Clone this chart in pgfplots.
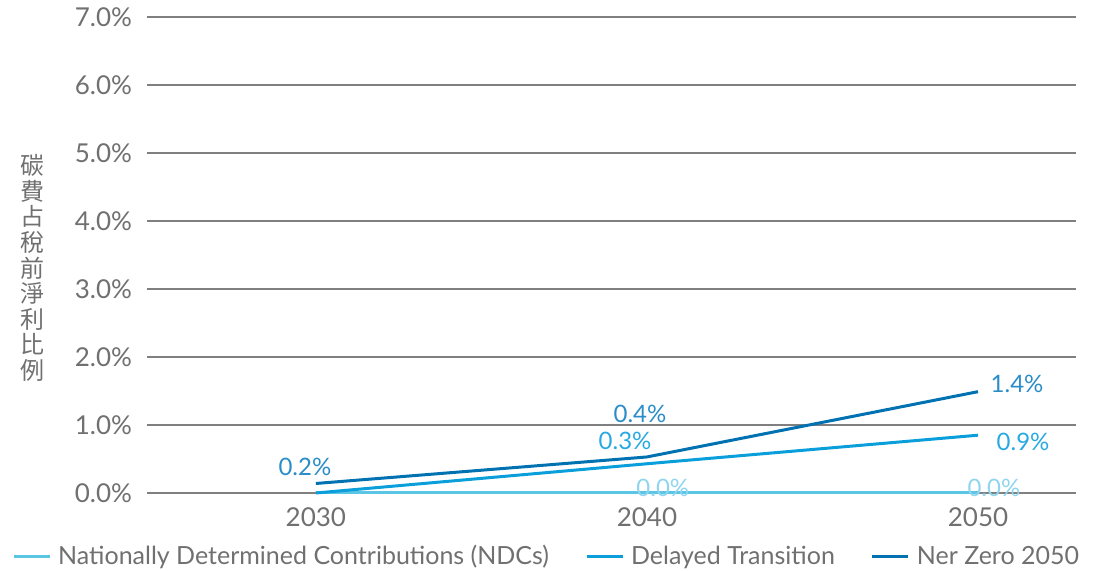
\documentclass[border=0pt]{standalone}
\usepackage{pgfplots}
\pgfplotsset{compat=1.18}
\usepackage{fontspec}
\setmainfont{Lato}
\newfontfamily\cjk{Noto Sans CJK TC}

\definecolor{ndc}{HTML}{5BC5E5}
\definecolor{delayed}{HTML}{0A9FDB}
\definecolor{netzero}{HTML}{0071B1}
\definecolor{lblnz}{HTML}{2B8DC8}
\definecolor{lbldt}{HTML}{29A9E1}
\definecolor{lblndc}{HTML}{8FD5EE}
\definecolor{txt}{HTML}{707070}
\definecolor{gridc}{HTML}{808080}

\begin{document}
\begin{tikzpicture}
\useasboundingbox (-73.5pt,-39pt) rectangle (479.5pt,246.5pt);
\begin{axis}[
    at={(0,0)}, anchor=south west,
    scale only axis,
    width=464.5pt, height=238pt,
    xmin=-0.51, xmax=2.296,
    ymin=0, ymax=7,
    xtick={0,1,2},
    xticklabels={2030,2040,2050},
    ytick={0,1,...,7},
    yticklabels={0.0\%,1.0\%,2.0\%,3.0\%,4.0\%,5.0\%,6.0\%,7.0\%},
    axis line style={draw=none},
    major tick length=0pt,
    ymajorgrids=true,
    grid style={gridc, line width=0.75pt},
    tick label style={font=\fontsize{13}{15}\selectfont, text=txt},
    yticklabel style={xshift=-4pt},
    xticklabel style={yshift=-4pt},
    legend columns=3,
    legend style={draw=none, fill=none, at={(-0.152,-0.134)}, anchor=west,
        font=\fontsize{12.5}{15}\selectfont, text=txt,
        /tikz/every odd column/.append style={column sep=1.5pt},
        /tikz/every even column/.append style={column sep=16pt}},
    legend cell align=left,
    legend image code/.code={\draw[#1, line width=1.5pt] (0pt,0pt) -- (18pt,0pt);},
    clip=false,
]
\addplot[ndc, line width=1.5pt] coordinates {(0,0) (1,0) (2,0)};
\addlegendentry{Nationally Determined Contributions (NDCs)}
\addplot[delayed, line width=1.5pt] coordinates {(0,0) (1,0.43) (2,0.85)};
\addlegendentry{Delayed Transition}
\addplot[netzero, line width=1.5pt] coordinates {(0,0.14) (1,0.53) (2,1.49)};
\addlegendentry{Ner Zero 2050}

\begin{scope}[every node/.style={font=\fontsize{12}{14}\selectfont}]
\node[text=lblnz] at (axis cs:-0.033,0.38) {0.2\%};
\node[text=lblnz] at (axis cs:0.979,1.16) {0.4\%};
\node[text=lblnz] at (axis cs:2.118,1.60) {1.4\%};
\node[text=lbldt] at (axis cs:0.934,0.765) {0.3\%};
\node[text=lbldt] at (axis cs:2.136,0.75) {0.9\%};
\node[text=lblndc] at (axis cs:1.048,0.07) {0.0\%};
\node[text=lblndc] at (axis cs:2.048,0.07) {0.0\%};
\end{scope}
\end{axis}
\node[text=txt, align=center, font=\cjk\fontsize{12}{12.8}\selectfont] at (-57pt,112.5pt)
  {碳\\費\\占\\稅\\前\\淨\\利\\比\\例};
\end{tikzpicture}
\end{document}
